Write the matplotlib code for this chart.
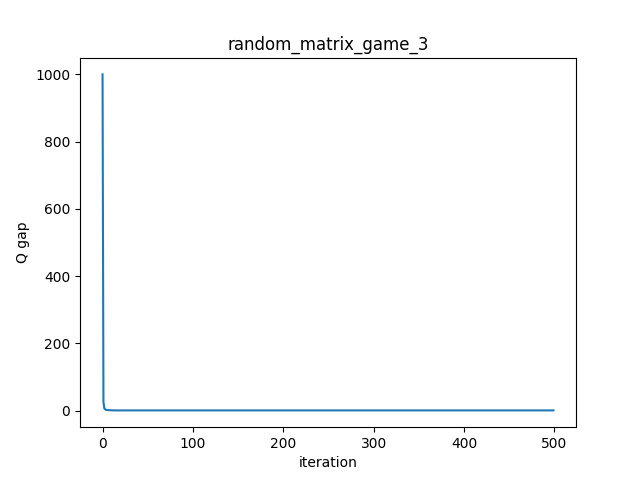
import matplotlib
matplotlib.use("Agg")
import matplotlib.pyplot as plt

# Q gap: sharp drop in the first few iterations, flat near zero after
head_gap = [1000.0, 25.0, 6.0, 3.0, 2.0, 1.5, 1.2, 1.0, 0.9, 0.8, 0.7]
tail_level = 0.3
n_iter = 500

q_gap = head_gap + [tail_level] * (n_iter - len(head_gap))
iteration = list(range(n_iter))

fig, ax = plt.subplots(figsize=(6.4, 4.8), dpi=100)
ax.plot(iteration, q_gap, color="#1f77b4")
ax.set_xlabel("iteration")
ax.set_ylabel("Q gap")
ax.set_title("random_matrix_game_3")
fig.savefig("out.png", dpi=100)
